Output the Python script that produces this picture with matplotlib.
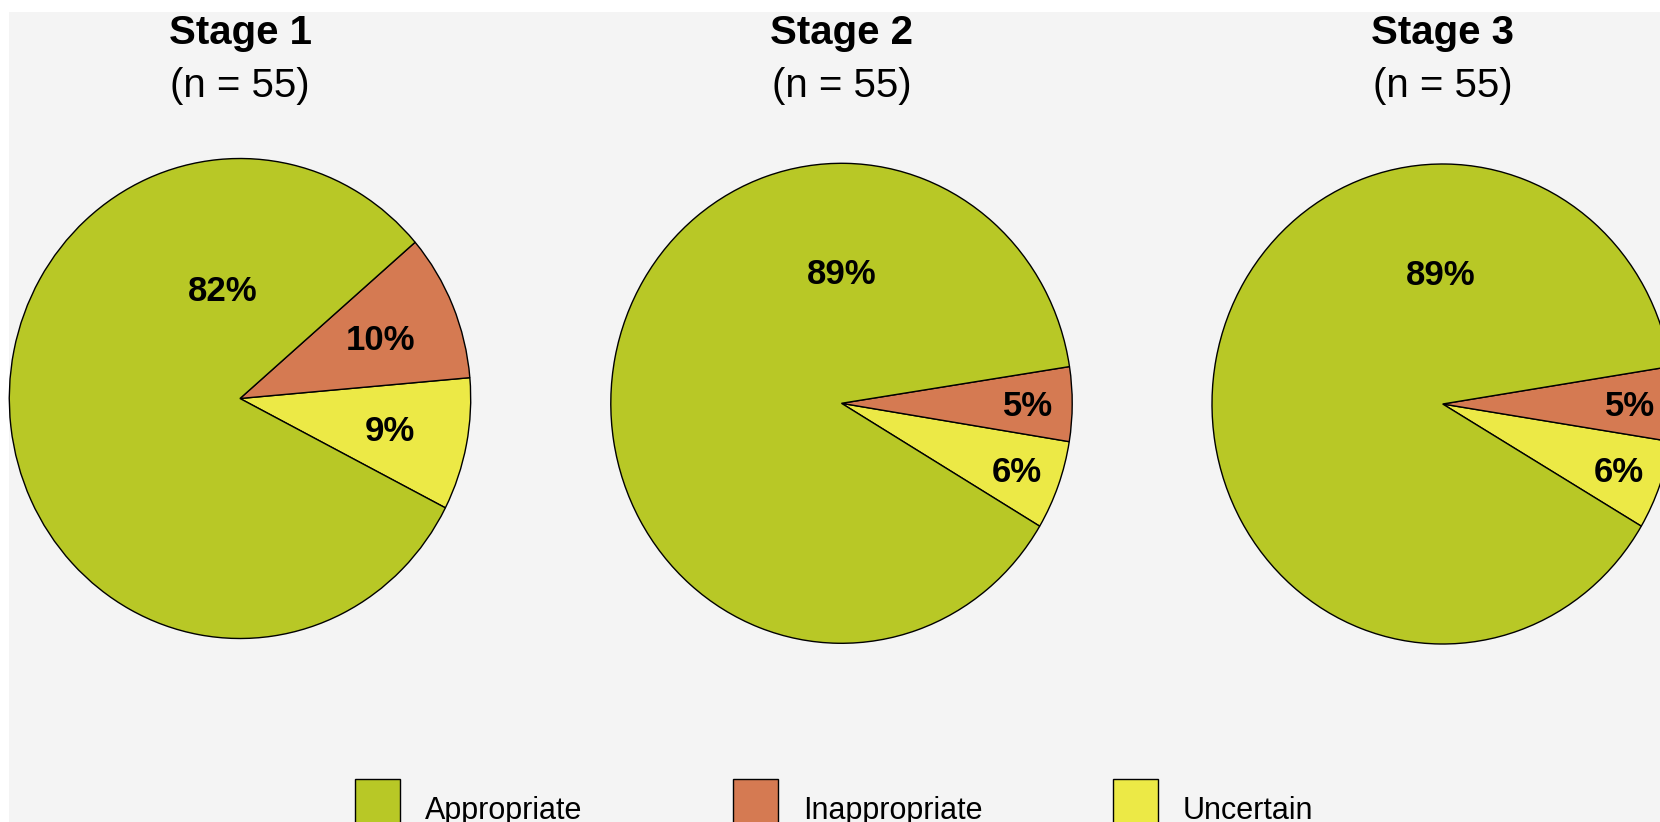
import matplotlib.pyplot as plt
from matplotlib.patches import Rectangle

W, H = 1660, 822
DPI = 100

STAGES = ["Stage 1", "Stage 2", "Stage 3"]
N_CASES = [55, 55, 55]
CATEGORIES = ["Appropriate", "Inappropriate", "Uncertain"]
APPROPRIATE = [82, 89, 89]
INAPPROPRIATE = [10, 5, 5]
UNCERTAIN = [9, 6, 6]

COLORS = {"Appropriate": "#b8c826", "Inappropriate": "#d57a52", "Uncertain": "#ece946"}
BG = "#f4f4f4"

# pie layout in pixels (y measured from the top)
CENTER_X = [240.0, 841.5, 1442.7]
CENTER_Y = [398.5, 403.3, 404.0]
RX, RY = 230.7, 240.0
START_ANGLE = [-27.1, -30.8, -30.6]
SMALL_LABEL_R = [0.66, 0.81, 0.81]
BIG_LABEL_POS = [(-0.074, 0.46), (0.0, 0.548), (-0.01, 0.546)]

FONT = "Liberation Sans"


def fx(px):
    return px / W


def fy(py):
    return 1 - py / H


def main():
    fig = plt.figure(figsize=(W / DPI, H / DPI), dpi=DPI, facecolor="white")

    # grey panel, leaves a thin white strip at top and left
    fig.add_artist(Rectangle((fx(9), 0), 1 - fx(9), fy(12), transform=fig.transFigure,
                             facecolor=BG, edgecolor="none", zorder=-5))

    for i, stage in enumerate(STAGES):
        cx, cy = CENTER_X[i], CENTER_Y[i]
        ax = fig.add_axes([fx(cx - RX), fy(cy + RY), 2 * RX / W, 2 * RY / H])
        # counter-clockwise: uncertain, inappropriate, then appropriate
        vals = [UNCERTAIN[i], INAPPROPRIATE[i], APPROPRIATE[i]]
        cols = [COLORS["Uncertain"], COLORS["Inappropriate"], COLORS["Appropriate"]]
        wedges, _ = ax.pie(vals, colors=cols, startangle=START_ANGLE[i], counterclock=True,
                           radius=1.0, wedgeprops=dict(edgecolor="black", linewidth=1.0))
        ax.set_aspect("auto")
        ax.set_xlim(-1, 1)
        ax.set_ylim(-1, 1)
        ax.set_axis_off()

        import numpy as np
        labels = [f"{v}%" for v in vals]
        for j, w in enumerate(wedges):
            if j < 2:
                mid = np.deg2rad((w.theta1 + w.theta2) / 2)
                u = SMALL_LABEL_R[i] * np.cos(mid)
                v = SMALL_LABEL_R[i] * np.sin(mid)
            else:
                u, v = BIG_LABEL_POS[i]
            px = cx + RX * u
            py = cy - RY * v
            # baseline placed half a cap height below the centre
            fig.text(fx(px), fy(py + 12.5), labels[j], ha="center", va="baseline",
                     fontsize=25, fontweight="bold", family=FONT)

        fig.text(fx(cx), fy(44.3), stage, ha="center", va="baseline",
                 fontsize=29, fontweight="bold", family=FONT)
        fig.text(fx(cx), fy(96.7), f"(n = {N_CASES[i]})", ha="center", va="baseline",
                 fontsize=29, family=FONT)

    # legend keys along the bottom edge
    key_x = [355, 733, 1112.6]
    for k, cat in enumerate(CATEGORIES):
        fig.add_artist(Rectangle((fx(key_x[k]), fy(824)), 45 / W, 45 / H,
                                 transform=fig.transFigure, facecolor=COLORS[cat],
                                 edgecolor="black", linewidth=1.0))
        fig.text(fx(key_x[k] + 70), fy(819), cat, ha="left", va="baseline",
                 fontsize=22, family=FONT)

    fig.savefig("out.png", dpi=DPI, facecolor="white")


if __name__ == "__main__":
    main()
